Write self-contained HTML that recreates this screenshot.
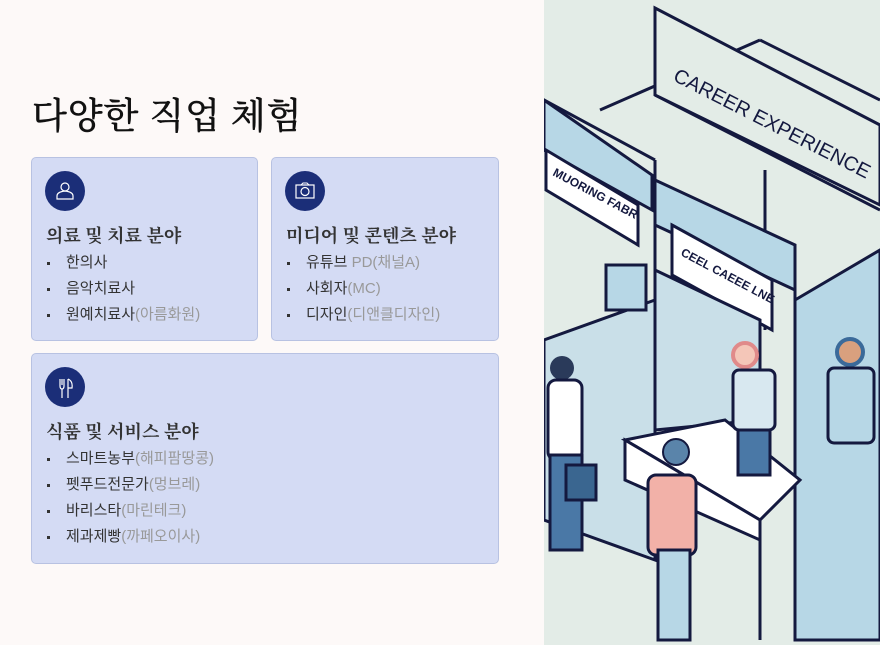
<!DOCTYPE html>
<html><head><meta charset="utf-8"><style>
body{margin:0;width:880px;height:645px;background:#fdf9f8;position:relative;overflow:hidden;font-family:"Liberation Sans","Noto Sans CJK KR",sans-serif;color:#2b2b2b}
h1{position:absolute;left:32px;top:88px;margin:0;font:normal 36px "Liberation Serif","Noto Serif CJK SC",serif;color:#111;letter-spacing:1px;-webkit-text-stroke:0.6px #111}
.card{position:absolute;background:#d4dbf4;border:1px solid #b8c2e2;border-radius:5px;box-sizing:border-box}
.ic{position:absolute;left:13px;top:13px;width:40px;height:40px;border-radius:50%;background:#1b2e78}
.h{position:absolute;left:14px;font:bold 18px "Liberation Serif","Noto Serif CJK SC",serif;color:#333}
ul{position:absolute;left:14px;margin:0;padding:0;list-style:none;font-size:15px;color:#333}
li{height:26px;line-height:26px;padding-left:20px;position:relative}
li:before{content:"";position:absolute;left:1px;top:12px;width:3px;height:3px;background:#333}
.g{color:#999}
</style></head><body>
<h1>다양한 직업 체험</h1>
<div class="card" style="left:31px;top:157px;width:227px;height:184px">
<div class="ic"><svg width="40" height="40"><circle cx="20" cy="16" r="4" fill="none" stroke="#fff" stroke-width="1.2"/><path d="M12 28v-3q0-4 8-5q8 1 8 5v3z" fill="none" stroke="#fff" stroke-width="1.2"/></svg></div>
<div class="h" style="top:64px">의료 및 치료 분야</div>
<ul style="top:92px"><li>한의사</li><li>음악치료사</li><li>원예치료사<span class="g">(아름화원)</span></li></ul></div>
<div class="card" style="left:271px;top:157px;width:228px;height:184px">
<div class="ic"><svg width="40" height="40"><rect x="11" y="14" width="18" height="13" fill="none" stroke="#fff" stroke-width="1.2"/><circle cx="20" cy="20.5" r="4" fill="none" stroke="#fff" stroke-width="1.2"/><path d="M16 14l2-2h4l2 2" fill="none" stroke="#fff"/></svg></div>
<div class="h" style="top:64px">미디어 및 콘텐츠 분야</div>
<ul style="top:92px"><li>유튜브 <span class="g">PD(채널A)</span></li><li>사회자<span class="g">(MC)</span></li><li>디자인<span class="g">(디앤클디자인)</span></li></ul></div>
<div class="card" style="left:31px;top:353px;width:468px;height:211px">
<div class="ic"><svg width="40" height="40"><path d="M15 12v7q0 3 2 3v9M17 12v6M19 12v7q0 3-2 3M23 12v19M23 12q5 2 4 9h-4" fill="none" stroke="#fff" stroke-width="1.2"/></svg></div>
<div class="h" style="top:64px">식품 및 서비스 분야</div>
<ul style="top:92px"><li>스마트농부<span class="g">(해피팜땅콩)</span></li><li>펫푸드전문가<span class="g">(멍브레)</span></li><li>바리스타<span class="g">(마린테크)</span></li><li>제과제빵<span class="g">(까페오이사)</span></li></ul></div>
<svg style="position:absolute;left:544px;top:0" width="336" height="645" viewBox="544 0 336 645">
<rect x="544" y="0" width="336" height="645" fill="#e3ece7"/>
<g stroke="#14193f" stroke-width="3" fill="none">
<path d="M655 95L880 210"/>
<path d="M544 100L655 160M544 150L655 210"/>
<path d="M600 110L760 40M760 40L880 100"/>
<path d="M655 160V560M795 245V640M765 170V330"/>
</g>
<path d="M655 8L880 125V205L655 95Z" fill="#e3ece7" stroke="#14193f" stroke-width="3"/>
<text x="672" y="80" transform="rotate(27 672 80)" font-family="Liberation Sans" font-size="20" fill="#14193f">CAREER EXPERIENCE</text>
<path d="M544 100L652 175V210L544 150Z" fill="#b7d7e6" stroke="#14193f" stroke-width="3"/>
<path d="M546 150L638 205V245L546 190Z" fill="#fff" stroke="#14193f" stroke-width="3"/>
<text x="552" y="175" transform="rotate(28 552 175)" font-family="Liberation Sans" font-size="12" font-weight="bold" fill="#14193f">MUORING FABR</text>
<path d="M655 180L795 245V290L655 225Z" fill="#b7d7e6" stroke="#14193f" stroke-width="3"/>
<path d="M672 225L772 280V330L672 275Z" fill="#fff" stroke="#14193f" stroke-width="3"/>
<text x="680" y="255" transform="rotate(28 680 255)" font-family="Liberation Sans" font-size="12" font-weight="bold" fill="#14193f">CEEL CAEEE LNE</text>
<path d="M544 340L655 300V560L544 520Z" fill="#c9dfe8" stroke="#14193f" stroke-width="3"/>
<path d="M655 270L760 320V420L655 430Z" fill="#c9dfe8" stroke="#14193f" stroke-width="3"/>
<path d="M795 300L880 250V640H795Z" fill="#b7d7e6" stroke="#14193f" stroke-width="3"/>
<path d="M625 440L725 420L800 480L760 520Z" fill="#fff" stroke="#14193f" stroke-width="3"/>
<path d="M625 440V480L760 540V520Z" fill="#fff" stroke="#14193f" stroke-width="3"/>
<path d="M660 490V640M760 540V640" stroke="#14193f" stroke-width="3"/>
<rect x="606" y="265" width="40" height="45" fill="#b7d7e6" stroke="#14193f" stroke-width="3"/>
<circle cx="562" cy="368" r="12" fill="#2a3a5a"/>
<rect x="548" y="380" width="34" height="80" rx="8" fill="#fff" stroke="#14193f" stroke-width="3"/>
<rect x="550" y="455" width="32" height="95" fill="#4a78a6" stroke="#14193f" stroke-width="3"/>
<rect x="566" y="465" width="30" height="35" fill="#3a6690" stroke="#14193f" stroke-width="3"/>
<circle cx="745" cy="355" r="12" fill="#f4c6b8" stroke="#e08a8a" stroke-width="4"/>
<rect x="733" y="370" width="42" height="60" rx="6" fill="#d8e8f0" stroke="#14193f" stroke-width="3"/>
<rect x="738" y="430" width="32" height="45" fill="#4a78a6" stroke="#14193f" stroke-width="3"/>
<circle cx="850" cy="352" r="13" fill="#d9a07e" stroke="#3b6a9a" stroke-width="4"/>
<rect x="828" y="368" width="46" height="75" rx="6" fill="#b7d7e6" stroke="#14193f" stroke-width="3"/>
<circle cx="676" cy="452" r="13" fill="#5a84aa" stroke="#14193f" stroke-width="2"/>
<rect x="648" y="475" width="48" height="80" rx="8" fill="#f2b1a8" stroke="#14193f" stroke-width="3"/>
<rect x="658" y="550" width="32" height="90" fill="#b7d7e6" stroke="#14193f" stroke-width="3"/>
</svg>
</body></html>
